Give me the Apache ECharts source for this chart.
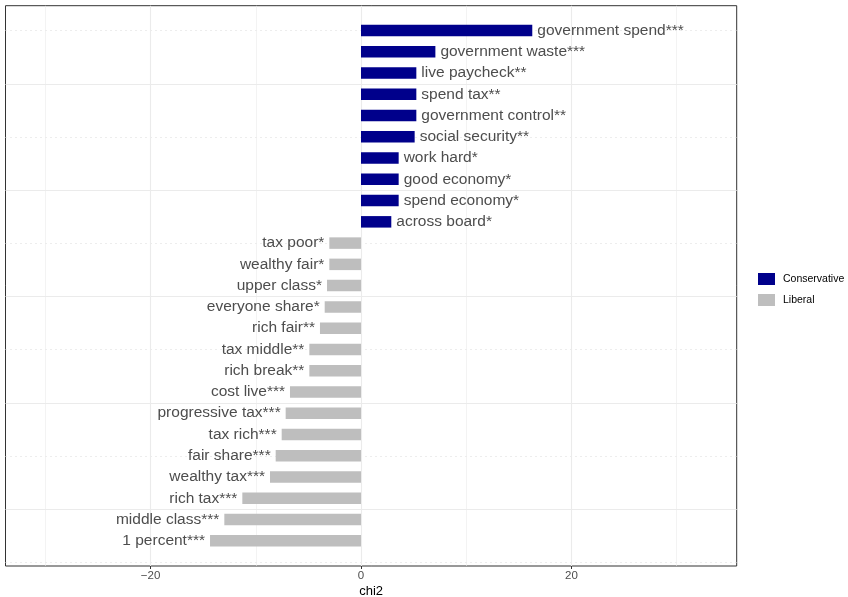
<!DOCTYPE html>
<html>
<head>
<meta charset="utf-8">
<script src="https://cdn.jsdelivr.net/npm/echarts@6/dist/echarts.min.js"></script>
<style>
  html, body { margin: 0; padding: 0; background: #fff; }
  #chart { width: 848px; height: 597px; }
</style>
</head>
<body>
<div id="chart"></div>
<script>
// ---- data ----
const terms = ['government spend', 'government waste', 'live paycheck', 'spend tax', 'government control',
  'social security', 'work hard', 'good economy', 'spend economy', 'across board',
  'tax poor', 'wealthy fair', 'upper class', 'everyone share', 'rich fair', 'tax middle',
  'rich break', 'cost live', 'progressive tax', 'tax rich', 'fair share', 'wealthy tax',
  'rich tax', 'middle class', '1 percent'];
const stars = ['***', '***', '**', '**', '**', '**', '*', '*', '*', '*',
  '*', '*', '*', '*', '**', '**', '**', '***', '***', '***', '***', '***', '***', '***', '***'];
const chi2 = [16.28, 7.07, 5.26, 5.26, 5.26, 5.10, 3.58, 3.58, 3.58, 2.88,
  -3.01, -3.01, -3.23, -3.45, -3.90, -4.91, -4.91, -6.75, -7.16, -7.54, -8.11, -8.65, -11.28, -12.99, -14.35];
const groups = ['Conservative', 'Conservative', 'Conservative', 'Conservative', 'Conservative',
  'Conservative', 'Conservative', 'Conservative', 'Conservative', 'Conservative',
  'Liberal', 'Liberal', 'Liberal', 'Liberal', 'Liberal', 'Liberal', 'Liberal', 'Liberal',
  'Liberal', 'Liberal', 'Liberal', 'Liberal', 'Liberal', 'Liberal', 'Liberal'];
const xTicks = [-20, 0, 20];
const xName = 'chi2';

// ---- layout ----
const W = 848, H = 597;
const XMIN = -33.79, XMAX = 35.71;
const PL = 5.5, PR = 736.7, PT = 5.7, PB = 566;
const pxPerUnit = (PR - PL) / (XMAX - XMIN);
const px = v => PL + (v - XMIN) * pxPerUnit;
const rowH = 21.26, firstRowY = 30.5;

const font = "'Liberation Sans', Arial, Helvetica, sans-serif";
const grey92 = '#EBEBEB';

const conservative = chi2.map((v, i) => groups[i] === 'Conservative' ? v : '-');
const liberal = chi2.map((v, i) => groups[i] === 'Liberal' ? v : '-');
const labelFmt = p => terms[p.dataIndex] + stars[p.dataIndex];

const chart = echarts.init(document.getElementById('chart'), null, { renderer: 'canvas' });

const hiddenY = (gi) => ({ type: 'value', gridIndex: gi, min: 0, max: 1, show: false });
const g = (o) => Object.assign({ containLabel: false, outerBoundsMode: 'none' }, o);

chart.setOption({
  animation: false,
  backgroundColor: '#fff',
  textStyle: { fontFamily: font },
  legend: {
    orient: 'vertical',
    left: 753, top: 268,
    itemWidth: 17, itemHeight: 12, itemGap: 9,
    icon: 'rect',
    data: ['Conservative', 'Liberal'],
    textStyle: { fontSize: 10.5, color: '#000', fontFamily: font, padding: [0, 0, 0, 3] }
  },
  grid: [
    // 0 panel
    g({ left: PL, right: W - PR, top: PT, bottom: H - PB, show: true, borderColor: '#333', borderWidth: 1, backgroundColor: 'transparent' }),
    // 1 vertical grid lines
    g({ left: px(-30), right: W - px(30), top: PT, bottom: H - PB }),
    // 2 tick labels
    g({ left: px(xTicks[0]), right: W - px(xTicks[2]), top: PT, bottom: H - PB }),
    // 3 horizontal grid lines
    g({ left: PL, right: W - PR, top: firstRowY + 0.2, bottom: H - (firstRowY + 0.2 + 25 * rowH) }),
    // 4 bars
    g({ left: PL, right: W - PR, top: firstRowY - rowH / 2, bottom: H - (firstRowY - rowH / 2 + terms.length * rowH) })
  ],
  xAxis: [
    { type: 'value', gridIndex: 0, min: XMIN, max: XMAX, name: xName, nameLocation: 'middle', nameGap: 18.5,
      nameTextStyle: { fontSize: 13, color: '#000', fontFamily: font },
      axisLine: { show: false }, axisTick: { show: false }, axisLabel: { show: false }, splitLine: { show: false } },
    { type: 'value', gridIndex: 1, min: -30, max: 30, interval: 20,
      axisLine: { show: false }, axisTick: { show: false }, axisLabel: { show: false },
      splitLine: { show: true, lineStyle: { color: grey92, width: 0.6 } },
      minorTick: { show: false, splitNumber: 2 },
      minorSplitLine: { show: true, lineStyle: { color: grey92, width: 1.1 } } },
    { type: 'value', gridIndex: 2, min: xTicks[0], max: xTicks[2], interval: 20,
      axisLine: { show: false },
      axisTick: { show: true, length: 3, lineStyle: { color: '#333', width: 1 } },
      axisLabel: { show: true, margin: 4, fontSize: 11.5, color: '#4D4D4D', fontFamily: font,
        formatter: v => v < 0 ? '\u2212' + Math.abs(v) : String(v) },
      splitLine: { show: false } },
    { type: 'value', gridIndex: 3, min: 0, max: 1, show: false },
    { type: 'value', gridIndex: 4, min: XMIN, max: XMAX, show: false }
  ],
  yAxis: [
    hiddenY(0), hiddenY(1), hiddenY(2),
    { type: 'value', gridIndex: 3, min: 0, max: 25, interval: 5,
      axisLine: { show: false }, axisTick: { show: false }, axisLabel: { show: false },
      splitLine: { show: true, lineStyle: { color: '#DADADA', width: 1, type: [1, 4] } },
      minorTick: { show: false, splitNumber: 2 },
      minorSplitLine: { show: true, lineStyle: { color: grey92, width: 1.1 } } },
    { type: 'category', gridIndex: 4, data: terms, inverse: true, show: false }
  ],
  series: [
    { name: 'Conservative', type: 'bar', xAxisIndex: 4, yAxisIndex: 4, data: conservative,
      barWidth: 11.5, barGap: '-100%',
      itemStyle: { color: '#00008B' },
      label: { show: true, position: 'right', distance: 5, formatter: labelFmt,
        fontSize: 15.5, color: '#4D4D4D', fontFamily: font } },
    { name: 'Liberal', type: 'bar', xAxisIndex: 4, yAxisIndex: 4, data: liberal,
      barWidth: 11.5, barGap: '-100%',
      itemStyle: { color: '#BEBEBE' },
      label: { show: true, position: 'left', distance: 5, formatter: labelFmt,
        fontSize: 15.5, color: '#4D4D4D', fontFamily: font } }
  ]
});
</script>
</body>
</html>
